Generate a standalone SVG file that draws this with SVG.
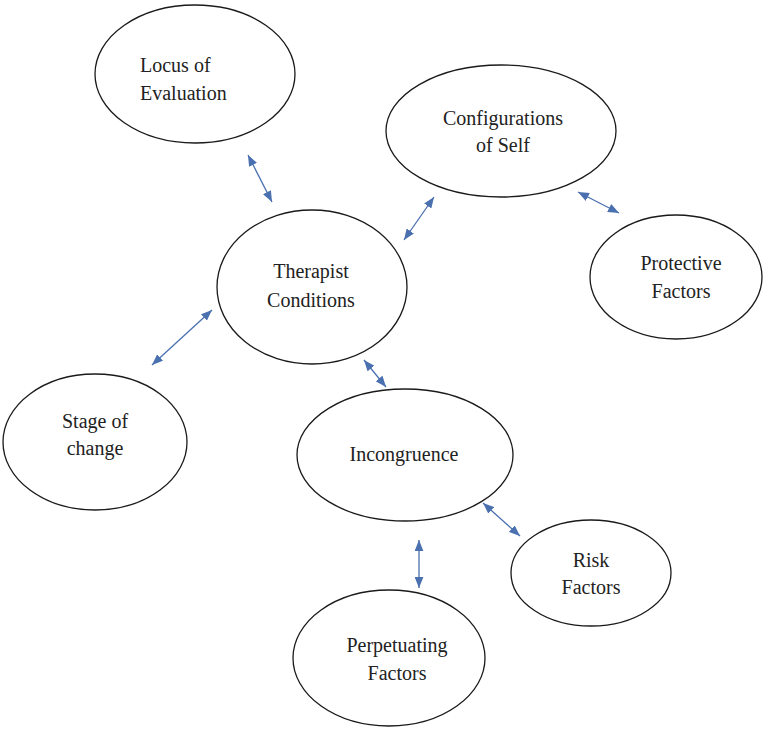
<svg xmlns="http://www.w3.org/2000/svg" width="775" height="730" viewBox="0 0 775 730">
<style>
.node ellipse{fill:#fff;stroke:#1a1a1a;stroke-width:1.3}
.node text{font-size:20px;fill:#222;text-anchor:middle}
.conn line{stroke:#4a70b0;stroke-width:1.3;marker-start:url(#ah);marker-end:url(#ah)}
</style>
<defs>
<marker id="ah" viewBox="0 0 10 8" refX="10" refY="4" markerWidth="11" markerHeight="9" markerUnits="userSpaceOnUse" orient="auto-start-reverse">
<path d="M0,0 L10,4 L0,8 Z" fill="#4a70b0"/>
</marker>
</defs>
<rect width="775" height="730" fill="#fff"/>
<g id="connectors" class="conn">
<line x1="248" y1="155" x2="272" y2="202"/>
<line x1="434" y1="197" x2="404" y2="240"/>
<line x1="578" y1="192" x2="619" y2="213"/>
<line x1="212" y1="310" x2="152" y2="365"/>
<line x1="364" y1="360" x2="386" y2="387"/>
<line x1="483" y1="503" x2="520" y2="536"/>
<line x1="419" y1="540" x2="419" y2="588"/>
</g>
<g font-family="Liberation Serif, Tinos, DejaVu Serif, serif">
<g id="locus" class="node">
<ellipse cx="195" cy="74" rx="100" ry="69"/>
<text x="140" y="72" style="text-anchor:start">Locus of</text>
<text x="140" y="100" style="text-anchor:start">Evaluation</text>
</g>
<g id="config" class="node">
<ellipse cx="501" cy="131" rx="115" ry="66"/>
<text x="503" y="125">Configurations</text>
<text x="503" y="152">of Self</text>
</g>
<g id="therapist" class="node">
<ellipse cx="312" cy="287" rx="95" ry="77"/>
<text x="311" y="278">Therapist</text>
<text x="311" y="307">Conditions</text>
</g>
<g id="protective" class="node">
<ellipse cx="676" cy="277" rx="86" ry="62"/>
<text x="681" y="270">Protective</text>
<text x="681" y="298">Factors</text>
</g>
<g id="stage" class="node">
<ellipse cx="95" cy="442" rx="92" ry="68"/>
<text x="95" y="428">Stage of</text>
<text x="95" y="455">change</text>
</g>
<g id="incongruence" class="node">
<ellipse cx="405" cy="455" rx="108" ry="66"/>
<text x="404" y="461">Incongruence</text>
</g>
<g id="risk" class="node">
<ellipse cx="591" cy="573" rx="80" ry="53"/>
<text x="591" y="567">Risk</text>
<text x="591" y="594">Factors</text>
</g>
<g id="perpetuating" class="node">
<ellipse cx="389" cy="658" rx="96" ry="68"/>
<text x="397" y="652">Perpetuating</text>
<text x="397" y="680">Factors</text>
</g>
</g>
</svg>
